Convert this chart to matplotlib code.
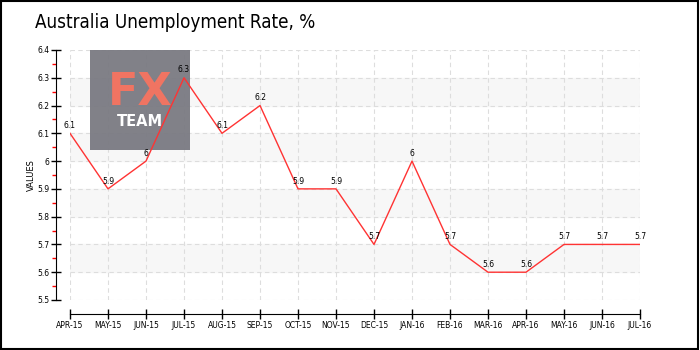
import matplotlib.pyplot as plt
from matplotlib.patches import Rectangle
from matplotlib.ticker import MultipleLocator
import numpy as np

months = ['APR-15', 'MAY-15', 'JUN-15', 'JUL-15', 'AUG-15', 'SEP-15', 'OCT-15', 'NOV-15',
          'DEC-15', 'JAN-16', 'FEB-16', 'MAR-16', 'APR-16', 'MAY-16', 'JUN-16', 'JUL-16']
rates = [6.1, 5.9, 6.0, 6.3, 6.1, 6.2, 5.9, 5.9, 5.7, 6.0, 5.7, 5.6, 5.6, 5.7, 5.7, 5.7]
rate_labels = ['6.1', '5.9', '6', '6.3', '6.1', '6.2', '5.9', '5.9',
               '5.7', '6', '5.7', '5.6', '5.6', '5.7', '5.7', '5.7']
y_ticks = [5.5, 5.6, 5.7, 5.8, 5.9, 6.0, 6.1, 6.2, 6.3, 6.4]
y_tick_labels = ['5.5', '5.6', '5.7', '5.8', '5.9', '6', '6.1', '6.2', '6.3', '6.4']

fig = plt.figure(figsize=(7, 3.5), dpi=100)
ax = fig.add_axes([0.1, 0.1429, 0.8143, 0.7143])
x = np.arange(len(months))

# alternating bands
for lo in [5.6, 5.8, 6.0, 6.2]:
    ax.axhspan(lo, lo + 0.1, color='#f7f7f7', zorder=0)

ax.set_xlim(0, len(months) - 1)
ax.set_ylim(5.5, 6.4)
ax.set_xticks(x)
ax.set_xticklabels(months)
ax.set_yticks(y_ticks)
ax.set_yticklabels(y_tick_labels)
ax.yaxis.set_minor_locator(MultipleLocator(0.05))
ax.grid(True, which='major', color='#dddddd', linestyle=(0, (4, 3)), linewidth=0.8, zorder=1)

for side in ['top', 'right']:
    ax.spines[side].set_visible(False)
ax.spines['left'].set_position(('outward', 10))
ax.spines['bottom'].set_position(('outward', 10))
ax.tick_params(axis='both', which='major', direction='inout', length=7, width=1,
               pad=1.5, labelsize=5.5)
ax.tick_params(axis='y', which='minor', direction='out', length=3, color='red', width=1)
ax.set_ylabel('VALUES', fontsize=6, labelpad=1)

# logo box
ax.add_patch(Rectangle((0.0351, 0.6), 0.1754, 0.4, transform=ax.transAxes,
                       facecolor='#7a7a82', alpha=0.95, zorder=2, clip_on=False))
ax.text(0.1228, 0.828, 'FX', fontsize=32, color='#f07462', ha='center', va='center',
        fontweight='bold', transform=ax.transAxes, zorder=3)
ax.text(0.1228, 0.714, 'TEAM', fontsize=10.5, color='white', ha='center', va='center',
        fontweight='bold', transform=ax.transAxes, zorder=3)

ax.plot(x, rates, color='#ff3333', linewidth=1, zorder=4)
for xi, v, lab in zip(x, rates, rate_labels):
    ax.text(xi, v + 0.012, lab, fontsize=5.5, ha='center', va='bottom', zorder=5)

fig.text(0.05, 0.935, 'Australia Unemployment Rate, %', fontsize=13.5,
         family='DejaVu Sans', fontstretch='condensed', fontweight='light', va='center')

fig.add_artist(Rectangle((0.002, 0.004), 0.995, 0.992, transform=fig.transFigure,
                         fill=False, edgecolor='black', linewidth=1.5))

fig.savefig('out.png', dpi=100)
